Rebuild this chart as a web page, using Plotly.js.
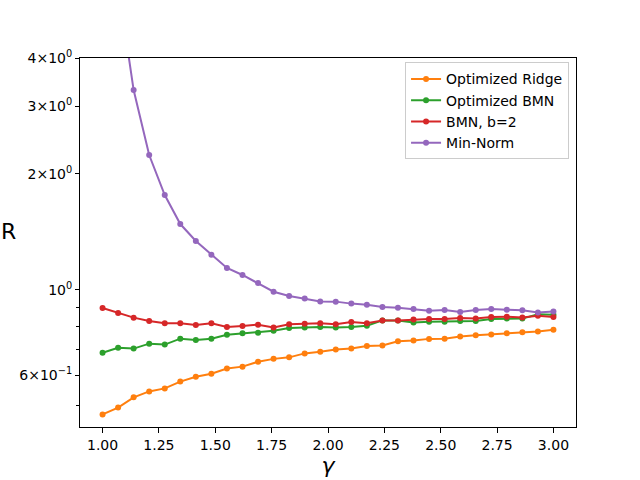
<!DOCTYPE html>
<html>
<head>
<meta charset="utf-8">
<script src="https://cdn.plot.ly/plotly-3.0.1.min.js"></script>
<style>
  html, body { margin: 0; padding: 0; background: #fff; }
  #plot { width: 640px; height: 480px; }
</style>
</head>
<body>
<div id="plot"></div>
<script>
// gamma grid (30 points from 1 to 3)
const gamma = [1.0000, 1.0690, 1.1379, 1.2069, 1.2759, 1.3448, 1.4138, 1.4828, 1.5517, 1.6207,
               1.6897, 1.7586, 1.8276, 1.8966, 1.9655, 2.0345, 2.1034, 2.1724, 2.2414, 2.3103,
               2.3793, 2.4483, 2.5172, 2.5862, 2.6552, 2.7241, 2.7931, 2.8621, 2.9310, 3.0000];

const ridge = [0.474, 0.494, 0.525, 0.544, 0.554, 0.577, 0.594, 0.605, 0.624, 0.631,
               0.650, 0.661, 0.667, 0.683, 0.690, 0.699, 0.703, 0.714, 0.716, 0.734,
               0.738, 0.745, 0.746, 0.756, 0.761, 0.765, 0.770, 0.775, 0.779, 0.787];

const bmnOpt = [0.686, 0.706, 0.703, 0.724, 0.720, 0.746, 0.740, 0.746, 0.764, 0.770,
                0.773, 0.782, 0.795, 0.798, 0.800, 0.798, 0.800, 0.806, 0.832, 0.832,
                0.822, 0.826, 0.826, 0.829, 0.829, 0.839, 0.841, 0.841, 0.863, 0.861];

const bmnB2 = [0.896, 0.870, 0.846, 0.829, 0.818, 0.818, 0.810, 0.818, 0.800, 0.805,
               0.811, 0.797, 0.813, 0.816, 0.818, 0.813, 0.824, 0.818, 0.831, 0.831,
               0.836, 0.839, 0.839, 0.844, 0.842, 0.849, 0.851, 0.847, 0.856, 0.849];

const minNorm = [60.0, 6.20, 3.302, 2.238, 1.762, 1.481, 1.338, 1.233, 1.139, 1.092,
                 1.041, 0.988, 0.963, 0.948, 0.932, 0.931, 0.920, 0.914, 0.902, 0.898,
                 0.891, 0.881, 0.886, 0.875, 0.886, 0.891, 0.887, 0.884, 0.872, 0.878];

const names  = ['Optimized Ridge', 'Optimized BMN', 'BMN, b=2', 'Min-Norm'];
const series = [ridge, bmnOpt, bmnB2, minNorm];
const colors = ['#ff7f0e', '#2ca02c', '#d62728', '#9467bd'];

const xTicks = [1.00, 1.25, 1.50, 1.75, 2.00, 2.25, 2.50, 2.75, 3.00];
const yTicks = [0.6, 1, 2, 3, 4];
const yTickText = ['6\u00d710<sup>\u22121</sup>', '10<sup>0</sup>', '2\u00d710<sup>0</sup>',
                   '3\u00d710<sup>0</sup>', '4\u00d710<sup>0</sup>'];
const yMinor = [0.5, 0.7, 0.8, 0.9];

const font = 'DejaVu Sans, sans-serif';

const traces = series.map((s, k) => ({
    type: 'scatter', mode: 'lines+markers',
    x: gamma, y: s, name: names[k],
    line: { color: colors[k], width: 2 },
    marker: { color: colors[k], size: 6 }
}));

const layout = {
    width: 640, height: 480,
    margin: { l: 80, r: 64, t: 58, b: 53 },
    paper_bgcolor: '#fff', plot_bgcolor: '#fff',
    font: { family: font, size: 14, color: '#000' },
    showlegend: true,
    legend: {
        x: 0.986, xanchor: 'right', y: 0.988, yanchor: 'top',
        bordercolor: '#cccccc', borderwidth: 1, bgcolor: 'rgba(255,255,255,0.8)',
        font: { family: font, size: 14 }
    },
    xaxis: {
        range: [0.9, 3.1],
        tickmode: 'array', tickvals: xTicks, ticktext: xTicks.map(v => v.toFixed(2)),
        ticks: 'outside', ticklen: 5, tickwidth: 1, tickcolor: '#000',
        showline: true, linecolor: '#000', linewidth: 1, mirror: true,
        showgrid: false, zeroline: false,
        tickfont: { family: font, size: 14 },
        title: { text: '<i>\u03b3</i>', font: { family: font, size: 22 }, standoff: 1 }
    },
    yaxis: {
        type: 'log',
        range: [Math.log10(0.4397), Math.log10(4)],
        tickmode: 'array', tickvals: yTicks, ticktext: yTickText,
        ticks: 'outside', ticklen: 4, tickwidth: 1, tickcolor: '#000',
        minor: { tickmode: 'array', tickvals: yMinor, ticks: 'outside', ticklen: 3, tickcolor: '#000', showgrid: false },
        showline: true, linecolor: '#000', linewidth: 1, mirror: true,
        showgrid: false, zeroline: false,
        tickfont: { family: font, size: 14 }
    },
    annotations: [{
        text: 'R', xref: 'paper', yref: 'paper', x: -0.164, y: 0.53,
        xanchor: 'left', yanchor: 'middle', showarrow: false,
        font: { family: font, size: 22, color: '#000' }
    }]
};

Plotly.newPlot('plot', traces, layout, { displayModeBar: false, staticPlot: true });
</script>
</body>
</html>
